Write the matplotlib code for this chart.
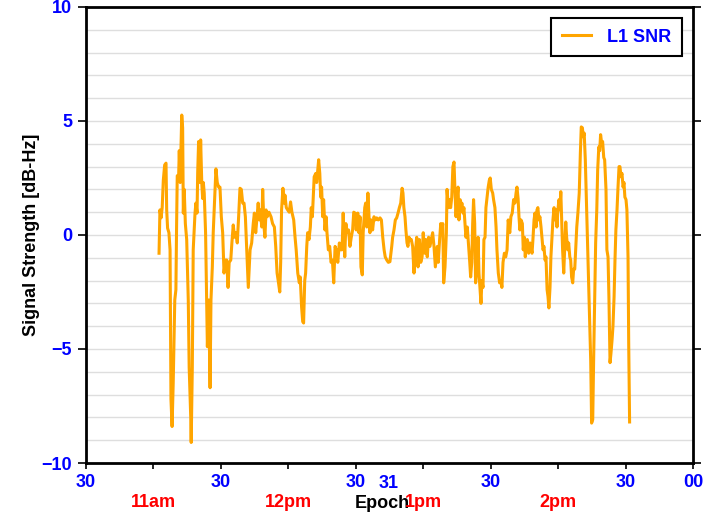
import matplotlib
matplotlib.use("Agg")
import matplotlib.pyplot as plt
from matplotlib.ticker import MultipleLocator, FixedLocator
import matplotlib.transforms as mtransforms

plt.rcParams['font.family'] = ['Liberation Sans', 'DejaVu Sans']

# epoch in minutes after 10:00, L1 SNR deviation in dB-Hz
epoch_min = [
    62.5, 62.9, 63.4, 63.9, 64.4, 65.0, 65.6, 65.9, 66.3, 66.9, 67.4, 67.8, 68.3, 68.8, 69.5, 70.0,
    70.3, 70.6, 71.2, 71.5, 71.9, 72.6, 73.0, 73.3, 73.7, 74.2, 74.8, 75.5, 75.9, 76.6, 76.8, 77.3,
    77.7, 78.5, 78.9, 79.4, 79.7, 80.1, 80.7, 81.0, 81.5, 81.9, 82.2, 82.6, 83.2, 84.0, 84.6, 85.2,
    85.6, 86.2, 86.6, 87.4, 87.8, 88.4, 89.0, 89.6, 90.2, 90.8, 91.4, 92.0, 92.6, 93.2, 93.7, 94.4,
    94.9, 95.5, 96.1, 96.7, 97.3, 97.9, 98.5, 99.1, 99.7, 100.3, 100.9, 101.5, 102.2,
    103.0, 103.7, 104.4, 104.9, 105.5, 106.1, 106.6, 107.1, 107.5, 108.2, 108.6, 109.2, 109.6, 110.1,
    110.6, 111.4, 112.3, 113.0, 113.8, 114.4, 115.0, 115.5, 116.2, 116.6, 117.0, 117.6, 118.1, 118.5,
    119.1, 119.7, 120.4, 121.0, 121.6, 122.4, 123.0, 123.5, 124.2, 124.9, 125.3, 125.9, 126.4, 126.8,
    127.3, 127.7, 128.2, 128.6, 129.2, 129.8, 130.2, 130.7, 131.1, 131.5, 132.2, 132.6, 133.1, 133.5,
    134.0, 134.4, 134.8, 135.3, 135.7, 136.3, 136.8, 137.2, 137.8, 138.4, 139.0, 139.6, 140.2, 140.8,
    141.3, 142.0, 142.7, 143.3,
    143.9, 144.4, 145.1, 145.6, 146.2, 146.8, 147.4, 148.0, 148.6, 149.1, 149.7, 150.2, 150.9, 151.4,
    151.9, 152.3, 152.9, 153.3, 154.0, 154.4, 154.9, 155.4, 155.9, 156.3, 156.9, 157.5, 158.1, 158.7,
    159.3, 160.0, 160.8, 161.4, 162.0, 162.6, 163.1, 163.8, 164.5, 165.2, 166.0, 166.4, 167.0, 167.6,
    168.2, 168.8, 169.4, 170.0, 170.6, 171.0, 171.4, 171.9, 172.3, 172.8, 173.2, 173.7, 174.1, 174.7,
    175.3, 175.9, 176.5, 177.1, 177.7, 178.3, 178.9, 179.5, 180.0, 180.7, 181.2, 181.8, 182.4, 183.0,
    183.6, 184.2, 184.8, 185.4,
    186.3, 186.7, 187.3, 187.8, 188.2, 188.7, 189.1, 189.7, 190.3, 190.6, 191.2, 191.6, 192.2, 192.7,
    193.2, 193.7, 194.1, 194.6, 195.0, 195.5, 195.9, 196.4, 196.8, 197.2, 197.7, 198.1, 198.6, 199.0,
    199.6, 200.0, 200.7, 201.1, 201.6, 202.0, 202.4, 202.9, 203.3, 203.9, 204.4, 204.8, 205.3, 205.7,
    206.1, 206.6, 207.0, 207.5, 207.9, 208.4, 208.9, 209.4, 209.8, 210.3, 210.9, 211.3, 211.9, 212.4,
    212.8, 213.4, 214.0, 214.6, 215.0, 215.5, 216.1, 216.7, 217.3, 217.8, 218.5, 219.0, 219.6, 220.2,
    220.8, 221.3, 221.7, 222.2, 222.6, 223.0, 223.5, 224.1, 224.5, 225.0, 225.4, 225.8, 226.3, 226.9,
    227.5,
    227.9, 228.4, 228.8, 229.3, 229.7, 230.2, 230.6, 231.0, 231.5, 231.9, 232.4, 232.8, 233.3, 233.7,
    234.2, 234.6, 235.1, 235.5, 235.9, 236.4, 236.8, 237.3, 237.7, 238.2, 238.6, 239.1, 239.5, 239.9,
    240.4, 240.8, 241.2, 241.6, 242.0, 242.5, 242.9, 243.4, 243.8, 244.3, 244.7, 245.2, 245.6, 246.0,
    246.5, 246.9, 247.4, 247.8, 248.3, 248.8, 249.4, 249.9, 250.3, 250.8, 251.2, 251.6, 252.1, 252.7,
    253.3, 253.9, 254.5, 254.9, 255.4, 255.8, 256.3, 256.7, 257.2, 257.6, 258.1, 258.5, 258.9, 259.4,
    259.8, 260.3, 260.7, 261.3, 261.7, 262.2, 262.6, 263.1, 263.5, 264.0, 264.4, 264.9, 265.3, 265.7,
    266.2, 266.6, 267.1, 267.5, 268.0, 268.4, 268.9, 269.3, 269.7, 270.2, 270.6, 271.1, 271.4, 271.8,
]
snr_db = [
    -0.8, 1.1, 0.75, 1.2, 2.4, 3.07, 3.15, 1.1, 0.3, 0.1, -0.65, -7.2, -8.4, -6.5, -2.85, -2.4,
    0.35, 2.6, 2.5, 3.7, 2.3, 5.26, 4.7, 0.96, 2.0, 0.5, -0.2, -2.85, -5.8, -8.0, -9.1, -5.8,
    -0.65, 0.96, 1.4, 0.96, 2.77, 4.1, 2.3, 4.17, 2.3, 1.6, 2.3, 1.84, 0.1, -4.9, -2.85, -6.7,
    -2.85, -1.4, 0.1, 2.0, 2.9, 2.3, 2.1, 2.1, 0.8, 0.1, -1.67, -1.1, -1.1, -2.3, -1.2, -1.1,
    -0.35, 0.44, -0.1, 0.1, -0.35, 0.8, 2.05, 2.0, 1.4, 1.4, 0.8, -0.65, -2.3,
    -0.65, -0.35, 0.5, 0.96, 0.1, 0.8, 1.4, 0.66, 1.1, 0.35, 2.0, 0.35, -0.1, 1.1,
    0.8, 1.0, 0.8, 0.5, 0.35, -0.5, -1.67, -2.0, -2.5, -1.2, 1.1, 2.05, 1.4, 1.75,
    1.2, 1.1, 1.0, 1.45, 1.0, 0.66, -0.1, -0.65, -1.67, -2.1, -1.84, -3.15, -3.8, -3.86,
    -2.0, -1.67, -0.5, 0.1, -0.2, 0.35, 1.2, 0.8, 1.66, 2.55, 2.7, 2.3, 2.85, 3.3,
    2.7, 1.66, 2.1, 0.8, 1.55, 0.22, 0.8, 0.1, -0.65, -0.5, -1.2, -1.1, -2.1, -0.5,
    -0.65, -1.2, -0.35, -0.65,
    -0.65, 0.96, -0.96, 0.5, 0.1, 0.22, -0.5, -0.1, 0.22, 1.0, 0.96, 0.22, 0.96, 0.1,
    0.8, -1.4, -1.75, 0.1, 1.2, 1.4, 0.35, 1.84, 0.8, 0.1, 0.66, 0.22, 0.8, 0.66,
    0.75, 0.66, 0.75, 0.66, -0.1, -0.65, -0.96, -1.1, -1.2, -1.17, -0.5, -0.1, 0.22, 0.66,
    0.75, 0.96, 1.2, 1.4, 2.05, 1.84, 1.2, 0.8, 0.22, -0.35, -0.5, -0.1, -0.2, -0.2,
    -0.5, -1.67, -0.8, -0.1, -1.4, -0.2, -1.2, -0.96, 0.1, -0.8, -0.2, -0.96, -0.1, -0.5,
    -0.2, 0.1, -0.5, -1.4,
    -0.5, -1.2, -0.2, 0.5, 0.1, 0.5, -2.1, -1.4, 0.1, 2.0, 1.2, 1.55, 1.2, 1.66,
    3.0, 3.2, 2.0, 0.8, 1.55, 2.1, 0.66, 1.55, 1.1, 1.4, 0.96, 1.2, 0.5, -0.1,
    0.35, -0.2, -1.2, -1.84, -1.2, 0.5, 1.55, 0.5, -2.1, -1.4, -0.1, -1.67, -2.4, -3.0,
    -2.0, -2.3, -0.2, -0.1, 1.2, 1.66, 2.1, 2.4, 2.5, 2.0, 1.84, 1.55, 1.2, 0.35,
    -0.65, -1.67, -2.1, -2.0, -2.3, -1.2, -0.8, -0.96, -0.65, 0.66, 0.1, 0.8, 0.96, 1.55,
    1.4, 1.84, 2.1, 1.6, 0.8, 0.22, 0.66, 0.5, -0.65, -0.1, -0.96, -0.35, -0.2, -0.8,
    -0.35,
    -0.5, -0.8, -0.2, 0.66, 0.96, 0.35, 1.1, 1.2, 0.66, 0.8, 0.35, -0.1, -0.65, -0.5,
    -1.1, -0.96, -2.4, -2.7, -3.2, -2.3, -0.96, -0.1, 0.66, 1.2, 0.66, 1.1, 0.35, 1.1,
    1.55, 1.1, 1.9, 0.66, -0.65, -1.67, -0.65, 0.57, -0.1, -0.65, -0.35, -0.96, -1.1, -1.84,
    -2.1, -1.5, -1.5, -0.65, 0.35, 0.96, 1.84, 3.6, 4.74, 4.7, 4.3, 4.47, 3.3, 1.1,
    -1.1, -3.3, -5.5, -8.25, -8.1, -5.5, -2.7, -0.35, 1.1, 2.85, 3.86, 3.7, 4.4, 4.0,
    4.1, 3.4, 3.3, 2.0, -0.65, -0.96, -2.7, -5.6, -5.2, -4.6, -4.0, -2.7, -1.1, 0.22,
    1.1, 2.0, 3.0, 3.0, 2.55, 2.7, 2.1, 2.3, 1.66, 1.55, 1.1, -0.96, -4.75, -8.2,
]

# axis annotation
major_ticks = [30, 90, 150, 210, 270, 300]
major_labels = ["30", "30", "30", "30", "30", "00"]
hour_ticks = [60, 120, 180, 240]
hour_labels = ["11am", "12pm", "1pm", "2pm"]
extra_tick = 164.8
extra_label = "31"

fig = plt.figure(figsize=(7.07, 5.20), dpi=100)
ax = fig.add_axes([0.1216, 0.1096, 0.8586, 0.877])

ax.plot(epoch_min, snr_db, color="#FFA500", lw=2.2, label="L1 SNR", zorder=3)

ax.set_xlim(30, 300)
ax.set_ylim(-10, 10)

ax.xaxis.set_major_locator(FixedLocator(major_ticks))
ax.xaxis.set_minor_locator(FixedLocator(hour_ticks))
ax.set_xticklabels(major_labels)
ax.yaxis.set_major_locator(MultipleLocator(5))
ax.yaxis.set_minor_locator(MultipleLocator(1))

ax.grid(axis="y", which="both", color="#dedede", lw=1.0, zorder=0)
ax.set_axisbelow(True)

for s in ax.spines.values():
    s.set_linewidth(2)

ax.tick_params(axis="x", which="both", direction="out", length=4, width=1.2,
               labelsize=13, labelcolor="blue", pad=4)
ax.tick_params(axis="y", which="major", direction="out", length=6, width=1.2,
               labelsize=13, labelcolor="blue", right=True, pad=4)
ax.tick_params(axis="y", which="minor", length=0)
for lab in ax.get_xticklabels() + ax.get_yticklabels():
    lab.set_fontweight("bold")

trans = mtransforms.blended_transform_factory(ax.transData, ax.transAxes)
ax.text(extra_tick, -0.026, extra_label, transform=trans, ha="center", va="top",
        fontsize=13, fontweight="bold", color="blue")
for h, lab in zip(hour_ticks, hour_labels):
    ax.text(h, -0.086, lab, transform=trans, ha="center", va="center",
            fontsize=13, fontweight="bold", color="red")

ax.set_xlabel("Epoch", fontsize=13, fontweight="bold", color="black")
ax.xaxis.set_label_coords(0.489, -0.070)
ax.set_ylabel("Signal Strength [dB-Hz]", fontsize=13, fontweight="bold")
ax.yaxis.set_label_coords(-0.076, 0.5)

leg = ax.legend(loc="upper right", fancybox=False, framealpha=1, edgecolor="black",
                prop={"size": 13, "weight": "bold"}, handlelength=1.6,
                handletextpad=0.9, borderpad=0.6, borderaxespad=0.6)
leg.get_frame().set_linewidth(1.5)
for t in leg.get_texts():
    t.set_color("blue")

plt.savefig("out.png", dpi=100)
